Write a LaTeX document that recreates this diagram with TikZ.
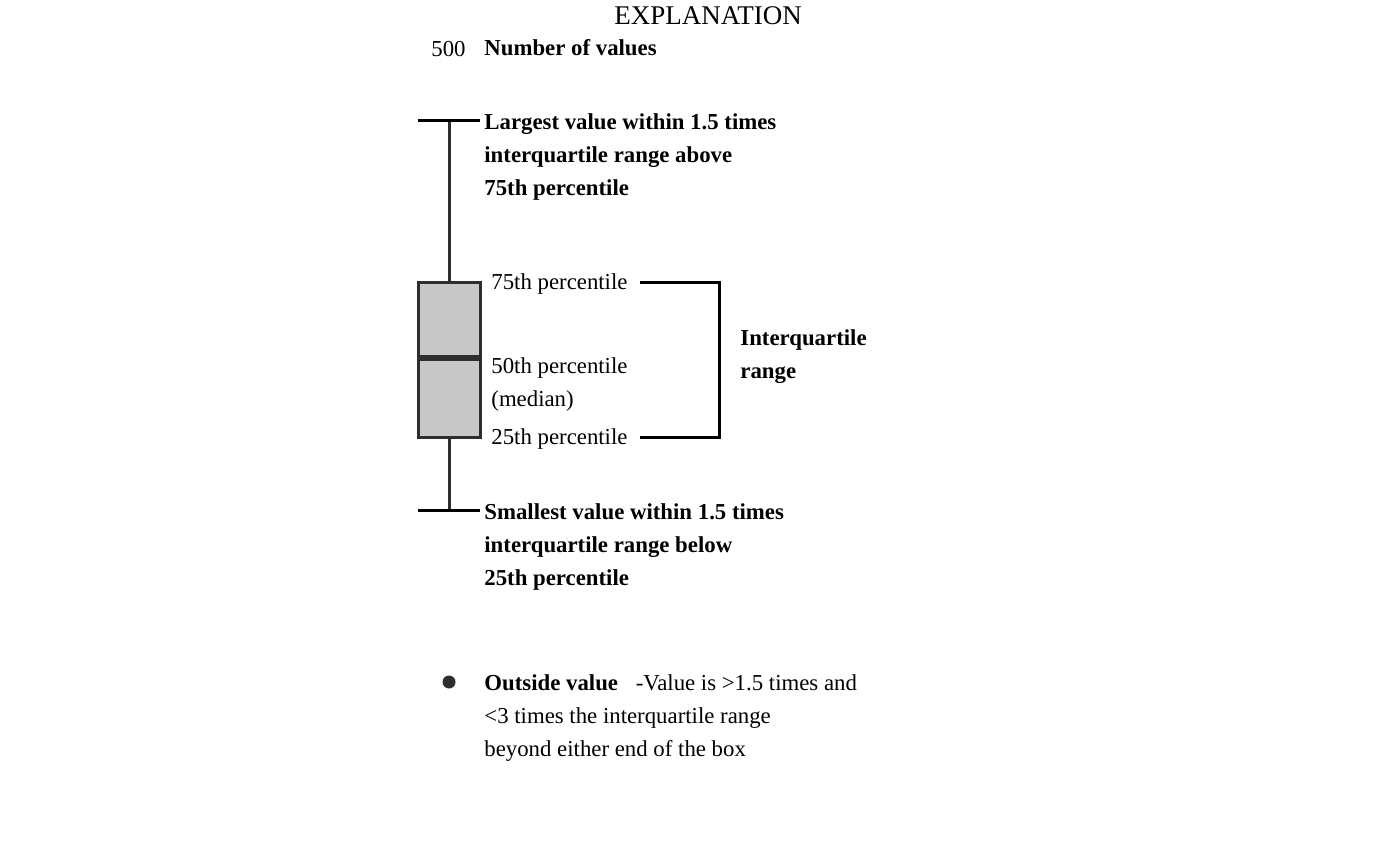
\documentclass[tikz,border=0pt]{standalone}
\usepackage{fontspec}
\setmainfont{Liberation Serif}
\usetikzlibrary{positioning}
\definecolor{boxgray}{HTML}{C8C8C8}
\definecolor{edgegray}{HTML}{2E2E2E}
\tikzset{
  txt/.style={inner sep=0pt, anchor=west, align=left, font=\fontsize{11.4}{16.5}\selectfont},
  bold/.style={txt, font=\fontsize{11.4}{16.5}\selectfont\bfseries},
  wline/.style={line width=1.5pt, color=edgegray},
  bline/.style={line width=1.5pt, color=black}
}

\begin{document}
\begin{tikzpicture}[x=0.5pt, y=-0.5pt]
		%%%%% START %%%%%
		\useasboundingbox (0, 0) rectangle (1400, 865);
		
		\node[txt, anchor=center, font=\fontsize{13.5}{16}\selectfont] (title) at (708, 16) {EXPLANATION};
		\node[txt, anchor=east] (count) at (466, 49) {500};
		\node[bold] (countlbl) at (484, 48) {Number of values};
		
		% box
		\draw[line width=1.5pt, draw=edgegray, fill=boxgray] (418, 283) rectangle (480, 437);
		\coordinate (q3) at (449, 283);
		\coordinate (q1) at (449, 437);
		\draw[line width=2.8pt, color=edgegray] (418, 358) -- (480, 358);
		
		% whiskers
		\coordinate (wtop) at (449, 121);
		\coordinate (wbot) at (449, 510);
		\draw[wline] (q3) -- (wtop);
		\draw[wline] (q1) -- (wbot);
		\draw[bline] (418, 121) -- (480, 121);
		\draw[bline] (418, 510) -- (480, 510);
		
		\node[bold] (upper) at (484, 157) {Largest value within 1.5 times\\interquartile range above\\75th percentile};
		\node[bold] (lower) at (484, 547) {Smallest value within 1.5 times\\interquartile range below\\25th percentile};
		
		\node[txt] (p75) at (491, 284) {75th percentile};
		\node[txt] (p50) at (491, 385) {50th percentile\\(median)};
		\node[txt] (p25) at (491, 439) {25th percentile};
		
		% bracket
		\coordinate (br1) at (640, 283);
		\coordinate (br2) at (640, 437);
		\draw[bline] (br1) -- (719, 283) -- (719, 437) -- (br2);
		\node[bold] (iqr) at (740, 357) {Interquartile\\range};
		
		% outside value
		\fill[edgegray] (449, 682) circle (6.5);
		\node[txt] (outtxt) at (484, 718) {\textbf{Outside value}\hspace*{6pt} -Value is >1.5 times and\\<3 times the interquartile range\\beyond either end of the box};
		
		%%%%% END %%%%%
	\end{tikzpicture}
\end{document}
